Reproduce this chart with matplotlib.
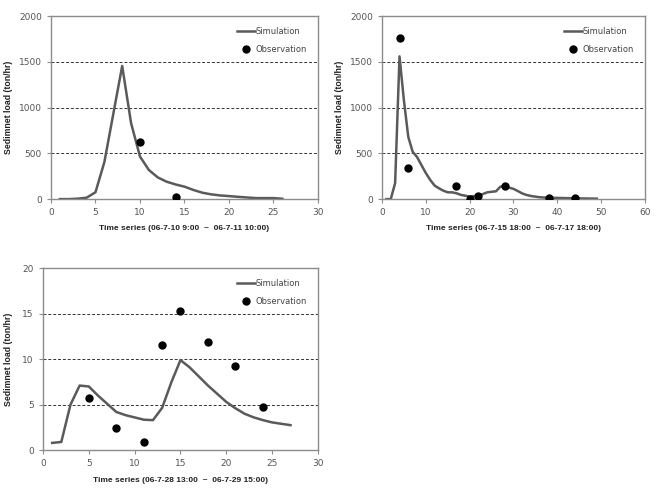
import numpy as np
import matplotlib.pyplot as plt

plt.rcParams['font.family'] = ['DejaVu Sans']
label_fonts = ['Liberation Sans Narrow', 'DejaVu Sans Condensed', 'Liberation Sans']

# event 1 (06-7-10 9:00 ~ 06-7-11 10:00)
t1 = list(range(1, 27))
sim1 = [0, 0, 5, 15, 75, 405, 930, 1455, 830, 465, 318, 237, 190, 160, 136, 100,
        70, 52, 40, 33, 25, 18, 11, 11, 11, 4]
obs1_t = [10, 14]
obs1 = [620, 25]

# event 2 (06-7-15 18:00 ~ 06-7-17 18:00)
t2 = list(range(1, 50))
sim2 = [0, 0, 175, 1560, 1080, 680, 518, 460, 372, 285, 210, 148, 118, 92, 74, 74,
        64, 46, 37, 28, 33, 37, 55, 74, 80, 85, 135, 145, 125, 112, 88, 62,
        45, 34, 27, 20, 17, 15, 14, 13, 12, 11, 10, 9, 8, 7, 6, 6, 5]
obs2_t = [4, 6, 17, 20, 22, 28, 38, 44]
obs2 = [1765, 345, 145, 5, 33, 145, 15, 8]

# event 3 (06-7-28 13:00 ~ 06-7-29 15:00)
t3 = list(range(1, 28))
sim3 = [0.8, 0.9, 5.0, 7.1, 7.0, 6.0, 5.1, 4.2, 3.85, 3.6, 3.35, 3.3, 4.65, 7.45,
        9.9, 9.1, 8.1, 7.1, 6.2, 5.3, 4.6, 4.0, 3.6, 3.3, 3.05, 2.9, 2.75]
obs3_t = [5, 8, 11, 13, 15, 18, 21, 24]
obs3 = [5.7, 2.4, 0.9, 11.6, 15.3, 11.9, 9.2, 4.7]

panels = [
    (t1, sim1, obs1_t, obs1, 30, 5, 2000, 500, 'Time series (06-7-10 9:00  ~  06-7-11 10:00)',
     [0.0776, 0.592, 0.4064, 0.375], 0.058 / 0.4064),
    (t2, sim2, obs2_t, obs2, 60, 10, 2000, 500, 'Time series (06-7-15 18:00  ~  06-7-17 18:00)',
     [0.5814, 0.592, 0.4003, 0.375], 0.058 / 0.4003),
    (t3, sim3, obs3_t, obs3, 30, 5, 20, 5, 'Time series (06-7-28 13:00  ~  06-7-29 15:00)',
     [0.0654, 0.0775, 0.4186, 0.373], 0.046 / 0.4186),
]

fig = plt.figure(figsize=(6.57, 4.88), dpi=100)
for t, sim, ot, ob, xmax, xstep, ymax, ystep, xlab, pos, ylab_off in panels:
    ax = fig.add_axes(pos)
    for g in np.arange(ystep, ymax, ystep):
        ax.axhline(g, color='#333333', ls=(0, (3, 2)), lw=0.7, zorder=1)
    ax.plot(t, sim, color='#5a5a5a', lw=1.8, label='Simulation', zorder=2)
    ax.plot(ot, ob, 'o', color='black', ms=5, label='Observation', zorder=3)
    ax.set_xlim(0, xmax)
    ax.set_ylim(0, ymax)
    ax.set_xticks(np.arange(0, xmax + 1, xstep))
    ax.set_yticks(np.arange(0, ymax + 1, ystep))
    for s in ax.spines.values():
        s.set_color('#8c8c8c')
        s.set_linewidth(1.0)
    ax.tick_params(colors='#8c8c8c', labelcolor='#555555', labelsize=6.5,
                   length=3, width=0.8)
    ax.set_xlabel(xlab, fontsize=6.0, fontweight='bold', family=label_fonts,
                  color='#222222', labelpad=6)
    ax.set_ylabel('Sedimnet load (ton/hr)', fontsize=6.3, fontweight='bold',
                  family=label_fonts, color='#222222')
    ax.yaxis.set_label_coords(-ylab_off, 0.5)
    leg = ax.legend(loc='upper right', frameon=False, fontsize=6, handlelength=2.2,
                    handletextpad=0.1, labelspacing=1.1, borderaxespad=0.9)
    for txt in leg.get_texts():
        txt.set_color('#444444')

fig.savefig('out.png', dpi=100)
